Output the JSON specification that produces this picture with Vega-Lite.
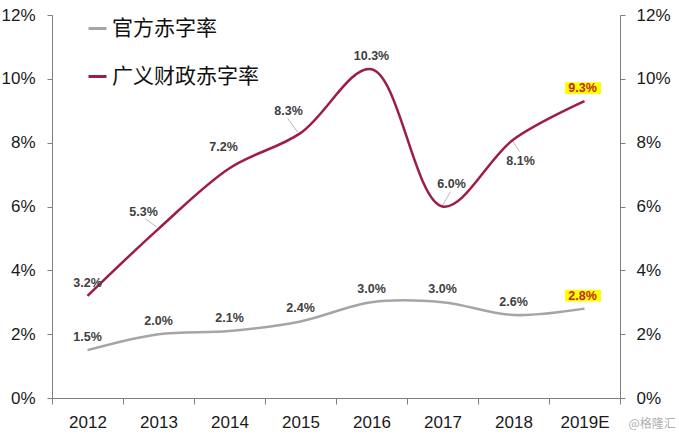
{
  "$schema": "https://vega.github.io/schema/vega-lite/v6.json",
  "width": 568,
  "height": 383,
  "autosize": "none",
  "padding": {"left": 52, "top": 15, "right": 59, "bottom": 37},
  "background": "white",
  "config": {
    "view": {"stroke": null},
    "font": "Liberation Sans",
    "legend": {
      "orient": "none",
      "legendX": 35,
      "legendY": 3,
      "symbolType": "stroke",
      "symbolSize": 324,
      "symbolStrokeWidth": 3,
      "labelFontSize": 21,
      "labelFont": "Noto Sans CJK SC",
      "labelColor": "#111111",
      "rowPadding": 26,
      "labelOffset": 4,
      "padding": 0,
      "labelLimit": 400
    }
  },
  "data": {
    "values": [
      {"year": "2012", "series": "官方赤字率", "value": 0.015},
      {"year": "2013", "series": "官方赤字率", "value": 0.020},
      {"year": "2014", "series": "官方赤字率", "value": 0.021},
      {"year": "2015", "series": "官方赤字率", "value": 0.024},
      {"year": "2016", "series": "官方赤字率", "value": 0.030},
      {"year": "2017", "series": "官方赤字率", "value": 0.030},
      {"year": "2018", "series": "官方赤字率", "value": 0.026},
      {"year": "2019E", "series": "官方赤字率", "value": 0.028},
      {"year": "2012", "series": "广义财政赤字率", "value": 0.032},
      {"year": "2013", "series": "广义财政赤字率", "value": 0.053},
      {"year": "2014", "series": "广义财政赤字率", "value": 0.072},
      {"year": "2015", "series": "广义财政赤字率", "value": 0.083},
      {"year": "2016", "series": "广义财政赤字率", "value": 0.103},
      {"year": "2017", "series": "广义财政赤字率", "value": 0.060},
      {"year": "2018", "series": "广义财政赤字率", "value": 0.081},
      {"year": "2019E", "series": "广义财政赤字率", "value": 0.093}
    ]
  },
  "encoding": {
    "x": {
      "field": "year",
      "type": "ordinal",
      "sort": ["2012", "2013", "2014", "2015", "2016", "2017", "2018", "2019E"],
      "scale": {"type": "band", "domain": ["2012", "2013", "2014", "2015", "2016", "2017", "2018", "2019E"], "paddingInner": 0, "paddingOuter": 0},
      "axis": {
        "labelAngle": 0,
        "labelFontSize": 17,
        "labelColor": "#1a1a1a",
        "labelPadding": 10,
        "domainColor": "#7f7f7f",
        "tickColor": "#7f7f7f",
        "tickSize": 6,
        "tickBand": "extent",
        "grid": false,
        "title": "@格隆汇",
        "titleX": 576,
        "titleY": 25,
        "titleAlign": "left",
        "titleBaseline": "middle",
        "titleFontSize": 12,
        "titleFontWeight": "normal",
        "titleColor": "#b0b0b0",
        "titleFont": "Noto Sans CJK SC"
      }
    }
  },
  "layer": [
    {
      "transform": [{"filter": "datum.series=='广义财政赤字率' && datum.year=='2013'"}],
      "mark": {"type": "point", "shape": "M-0.2,-0.2L-1.3,-1", "size": 400, "filled": false, "stroke": "#a6a6a6", "strokeWidth": 0.8, "opacity": 1},
      "encoding": {"y": {"field": "value", "type": "quantitative", "scale": {"domain": [0, 0.12], "nice": false}, "axis": null}}
    },
    {
      "transform": [{"filter": "datum.series=='广义财政赤字率' && datum.year=='2015'"}],
      "mark": {"type": "point", "shape": "M-0.3,-0.1L-1.3,-1.5", "size": 400, "filled": false, "stroke": "#a6a6a6", "strokeWidth": 0.8, "opacity": 1},
      "encoding": {"y": {"field": "value", "type": "quantitative", "scale": {"domain": [0, 0.12], "nice": false}, "axis": null}}
    },
    {
      "transform": [{"filter": "datum.series=='广义财政赤字率' && datum.year=='2017'"}],
      "mark": {"type": "point", "shape": "M0,-0.1L0.8,-1.5", "size": 400, "filled": false, "stroke": "#a6a6a6", "strokeWidth": 0.8, "opacity": 1},
      "encoding": {"y": {"field": "value", "type": "quantitative", "scale": {"domain": [0, 0.12], "nice": false}, "axis": null}}
    },
    {
      "transform": [{"filter": "datum.series=='广义财政赤字率' && datum.year=='2018'"}],
      "mark": {"type": "point", "shape": "M-0.2,0L0.6,1.2", "size": 400, "filled": false, "stroke": "#a6a6a6", "strokeWidth": 0.8, "opacity": 1},
      "encoding": {"y": {"field": "value", "type": "quantitative", "scale": {"domain": [0, 0.12], "nice": false}, "axis": null}}
    },
    {
      "mark": {"type": "line", "interpolate": "catmull-rom", "strokeWidth": 2.5},
      "encoding": {
        "y": {
          "field": "value",
          "type": "quantitative",
          "scale": {"domain": [0, 0.12], "nice": false},
          "axis": {
            "orient": "left",
            "values": [0, 0.02, 0.04, 0.06, 0.08, 0.1, 0.12],
            "format": ".0%",
            "labelFontSize": 17,
            "labelColor": "#1a1a1a",
            "labelPadding": 12,
            "tickSize": 5,
            "domainColor": "#7f7f7f",
            "tickColor": "#7f7f7f",
            "grid": false,
            "title": null
          }
        },
        "color": {
          "field": "series",
          "type": "nominal",
          "scale": {"domain": ["官方赤字率", "广义财政赤字率"], "range": ["#a5a5a5", "#9e1c4a"]},
          "legend": {"title": null}
        }
      }
    },
    {
      "mark": {"type": "point", "opacity": 0},
      "encoding": {
        "y": {
          "field": "value",
          "type": "quantitative",
          "scale": {"domain": [0, 0.12], "nice": false},
          "axis": {
            "orient": "right",
            "values": [0, 0.02, 0.04, 0.06, 0.08, 0.1, 0.12],
            "format": ".0%",
            "labelFontSize": 17,
            "labelColor": "#1a1a1a",
            "labelPadding": 11,
            "tickSize": 5,
            "domainColor": "#7f7f7f",
            "tickColor": "#7f7f7f",
            "grid": false,
            "title": null
          }
        }
      }
    },
    {
      "transform": [{"filter": "datum.year=='2019E'"}],
      "mark": {"type": "point", "shape": "M-1,-0.33L1,-0.33L1,0.33L-1,0.33Z", "size": 1296, "filled": true, "fill": "#ffff00", "opacity": 1, "strokeWidth": 0, "xOffset": -1.5, "yOffset": -13},
      "encoding": {"y": {"field": "value", "type": "quantitative", "scale": {"domain": [0, 0.12], "nice": false}, "axis": null}}
    },
    {
      "transform": [{"filter": "datum.year=='2019E'"}],
      "mark": {"type": "text", "dx": -2, "dy": -13, "fontSize": 12.5, "fontWeight": "bold", "color": "#c0281c", "baseline": "middle"},
      "encoding": {
        "y": {"field": "value", "type": "quantitative", "scale": {"domain": [0, 0.12], "nice": false}, "axis": null},
        "text": {"field": "value", "type": "quantitative", "format": ".1%"}
      }
    },
    {
      "transform": [{"filter": "(datum.series=='官方赤字率' && datum.year!='2019E') || (datum.series=='广义财政赤字率' && (datum.year=='2012' || datum.year=='2016'))"}],
      "mark": {"type": "text", "dx": 0, "dy": -13, "fontSize": 12.5, "fontWeight": "bold", "color": "#404040", "baseline": "middle"},
      "encoding": {
        "y": {"field": "value", "type": "quantitative", "scale": {"domain": [0, 0.12], "nice": false}, "axis": null},
        "text": {"field": "value", "type": "quantitative", "format": ".1%"}
      }
    },
    {
      "transform": [{"filter": "datum.series=='广义财政赤字率' && datum.year=='2013'"}],
      "mark": {"type": "text", "dx": -15, "dy": -17, "fontSize": 12.5, "fontWeight": "bold", "color": "#404040", "baseline": "middle"},
      "encoding": {
        "y": {"field": "value", "type": "quantitative", "scale": {"domain": [0, 0.12], "nice": false}, "axis": null},
        "text": {"field": "value", "type": "quantitative", "format": ".1%"}
      }
    },
    {
      "transform": [{"filter": "datum.series=='广义财政赤字率' && datum.year=='2014'"}],
      "mark": {"type": "text", "dx": -6, "dy": -21, "fontSize": 12.5, "fontWeight": "bold", "color": "#404040", "baseline": "middle"},
      "encoding": {
        "y": {"field": "value", "type": "quantitative", "scale": {"domain": [0, 0.12], "nice": false}, "axis": null},
        "text": {"field": "value", "type": "quantitative", "format": ".1%"}
      }
    },
    {
      "transform": [{"filter": "datum.series=='广义财政赤字率' && datum.year=='2015'"}],
      "mark": {"type": "text", "dx": -12, "dy": -22, "fontSize": 12.5, "fontWeight": "bold", "color": "#404040", "baseline": "middle"},
      "encoding": {
        "y": {"field": "value", "type": "quantitative", "scale": {"domain": [0, 0.12], "nice": false}, "axis": null},
        "text": {"field": "value", "type": "quantitative", "format": ".1%"}
      }
    },
    {
      "transform": [{"filter": "datum.series=='广义财政赤字率' && datum.year=='2017'"}],
      "mark": {"type": "text", "dx": 9, "dy": -23, "fontSize": 12.5, "fontWeight": "bold", "color": "#404040", "baseline": "middle"},
      "encoding": {
        "y": {"field": "value", "type": "quantitative", "scale": {"domain": [0, 0.12], "nice": false}, "axis": null},
        "text": {"field": "value", "type": "quantitative", "format": ".1%"}
      }
    },
    {
      "transform": [{"filter": "datum.series=='广义财政赤字率' && datum.year=='2018'"}],
      "mark": {"type": "text", "dx": 7, "dy": 22, "fontSize": 12.5, "fontWeight": "bold", "color": "#404040", "baseline": "middle"},
      "encoding": {
        "y": {"field": "value", "type": "quantitative", "scale": {"domain": [0, 0.12], "nice": false}, "axis": null},
        "text": {"field": "value", "type": "quantitative", "format": ".1%"}
      }
    }
  ],
  "resolve": {"axis": {"y": "independent"}}
}
